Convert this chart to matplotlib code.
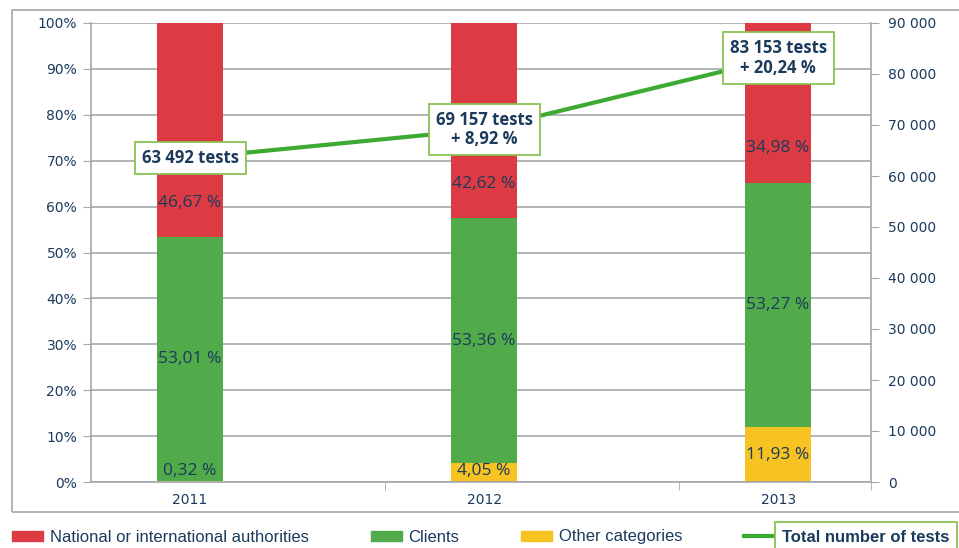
import matplotlib.pyplot as plt
import matplotlib.patches as mpatches
import matplotlib.lines as mlines
from matplotlib.ticker import FuncFormatter, MultipleLocator
import numpy as np

# ---------------------------------------------------------------- data
years = ['2011', '2012', '2013']
authorities = np.array([46.67, 42.62, 34.98])
clients = np.array([53.01, 53.36, 53.27])
other = np.array([0.32, 4.05, 11.93])
total_tests = np.array([63492, 69157, 83153])
growth = [None, '+ 8,92 %', '+ 20,24 %']

# ---------------------------------------------------------------- style
RED = '#DC3B43'
GREEN = '#52AB4A'
YELLOW = '#F6C322'
LINE = '#3DAA34'
BOXEDGE = '#8CC152'
NAVY = '#1B3A5C'
GRID = '#A3A7AD'


def fmt_pct(v):
    return '{:.2f} %'.format(v).replace('.', ',')


def fmt_thousands(v, pos=None):
    return '{:,.0f}'.format(v).replace(',', ' ')


fig = plt.figure(figsize=(9.59, 5.48), dpi=100)

# outer frame
fig.patches.append(mpatches.Rectangle((12 / 959, 1 - 512 / 548), 1.0, 502 / 548,
                                      transform=fig.transFigure, fill=False,
                                      edgecolor='#A6A6A6', lw=1.2))

ax = fig.add_axes([91 / 959, 1 - 482 / 548, 780 / 959, 459 / 548])
x = np.arange(len(years))
w = 0.225

ax.bar(x, other, w, color=YELLOW, zorder=2)
ax.bar(x, clients, w, bottom=other, color=GREEN, zorder=2)
ax.bar(x, authorities, w, bottom=other + clients, color=RED, zorder=2)

ax.set_xlim(-0.337, 2.316)
ax.set_ylim(0, 100)
ax.yaxis.set_major_locator(MultipleLocator(10))
ax.yaxis.set_major_formatter(FuncFormatter(lambda v, p: '{:.0f}%'.format(v)))
ax.grid(axis='y', color=GRID, lw=1.2, zorder=0)
ax.set_xticks(x)
ax.set_xticklabels(years)
ax.set_xticks([0.663, 1.663, 2.316], minor=True)
ax.tick_params(axis='x', which='major', length=0, pad=8, labelsize=10, labelcolor=NAVY)
ax.tick_params(axis='x', which='minor', length=6, color=GRID)
ax.tick_params(axis='y', length=6, color=GRID, labelsize=10, labelcolor=NAVY, pad=4)
for s in ['top', 'right']:
    ax.spines[s].set_visible(False)
for s in ['left', 'bottom']:
    ax.spines[s].set_color(GRID)
    ax.spines[s].set_linewidth(1.2)

# segment labels
lab_font = dict(family='Open Sans', fontsize=12.5, color=NAVY, ha='center', va='center', zorder=3)
for i in range(len(years)):
    ax.text(x[i], max(other[i] / 2, 2.4), fmt_pct(other[i]), **lab_font)
    ax.text(x[i], other[i] + clients[i] / 2, fmt_pct(clients[i]), **lab_font)
    ax.text(x[i], other[i] + clients[i] + 7.5, fmt_pct(authorities[i]), **lab_font)

# total tests line on right axis
ax2 = ax.twinx()
ax2.set_ylim(0, 90000)
ax2.yaxis.set_major_locator(MultipleLocator(10000))
ax2.yaxis.set_major_formatter(FuncFormatter(fmt_thousands))
ax2.tick_params(axis='y', length=6, color=GRID, labelsize=10, labelcolor=NAVY, pad=6)
for s in ['top', 'left', 'bottom']:
    ax2.spines[s].set_visible(False)
ax2.spines['right'].set_color(GRID)
ax2.spines['right'].set_linewidth(1.2)
ax2.plot(x, total_tests, color=LINE, lw=3, zorder=3, solid_capstyle='butt')

for i in range(len(years)):
    txt = fmt_thousands(total_tests[i]) + ' tests'
    if growth[i]:
        txt += '\n' + growth[i]
    ax2.text(x[i], total_tests[i], txt, family='Open Sans', fontweight='bold',
             fontsize=12, color=NAVY, ha='center', va='center', linespacing=1.1,
             zorder=4,
             bbox=dict(boxstyle='square,pad=0.42', facecolor='white',
                       edgecolor=BOXEDGE, lw=1.3))

# legend
handles = [mpatches.Patch(color=RED), mpatches.Patch(color=GREEN),
           mpatches.Patch(color=YELLOW), mlines.Line2D([], [], color=LINE, lw=3)]
labels = ['National or international authorities', 'Clients', 'Other categories',
          'Total number of tests']
leg = fig.legend(handles, labels, loc='center left', bbox_to_anchor=(12 / 959, 1 - 537 / 548),
                 ncol=4, frameon=False, borderaxespad=0, borderpad=0,
                 handlelength=1.86, handleheight=0.55, handletextpad=0.42,
                 columnspacing=3.7,
                 prop=dict(family='Liberation Sans', size=12))
for t in leg.get_texts():
    t.set_color(NAVY)
last = leg.get_texts()[3]
last.set_fontweight('bold')
last.set_bbox(dict(boxstyle='square,pad=0.45', facecolor='white', edgecolor=BOXEDGE, lw=1.3))

fig.savefig('out.png', dpi=100)
